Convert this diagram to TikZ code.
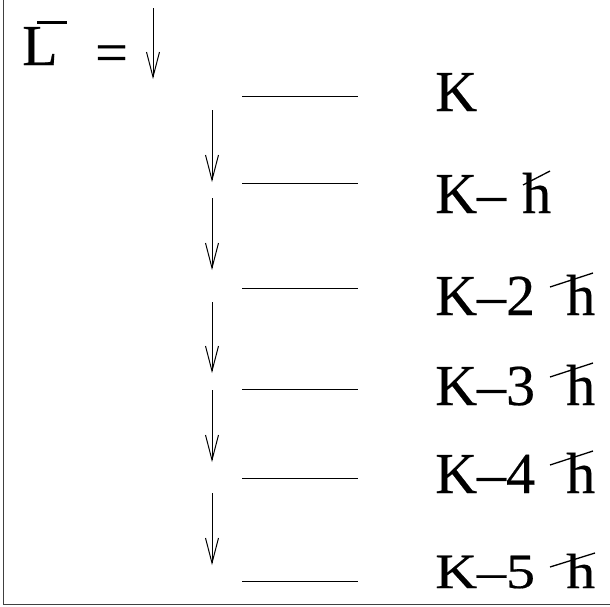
\documentclass[tikz,border=0pt]{standalone}
\usepackage{fontspec}
\setmainfont{Liberation Serif}
\newfontfamily\timesfont[FakeBold=0.4]{Liberation Serif}
\usetikzlibrary{arrows.meta}
\begin{document}
\begin{tikzpicture}[x=1pt,y=-1pt,
  lbl/.style={anchor=base west, inner sep=0pt, font=\timesfont\fontsize{58}{60}\selectfont},
  level/.style={line width=1pt},
  down/.style={line width=1pt, -{Straight Barb[length=25pt,width=13pt,line width=1pt]}},
  hbarline/.style={line width=1.3pt},
  frame/.style={line width=1pt, black!75}]
\useasboundingbox (0,0) rectangle (610,606);
% frame (left and bottom)
\coordinate (ftop) at (3,0);
\coordinate (fcorner) at (3,604);
\coordinate (fright) at (610,604);
\draw[frame] (ftop) -- (fcorner) -- (fright);
% L-bar = arrow
\node[lbl] (L) at (22,65) {L};
\coordinate (barA) at (37,22);
\coordinate (barB) at (67,22);
\draw[line width=3pt] (barA) -- (barB);
\node[lbl] (eq) at (95,72) {=};
\coordinate (t0) at (153,8);
\coordinate (t1) at (153,79);
\draw[down] (t0) -- (t1);
% levels
\foreach \i/\y in {1/96,2/183,3/288,4/389,5/478,6/581}{
  \coordinate (la\i) at (242,\y);
  \coordinate (lb\i) at (358,\y);
  \draw[level] (la\i) -- (lb\i);
}
% arrows between levels
\foreach \i/\ya/\yb in {1/110/182,2/198/270,3/302/373,4/390/462,5/493/565}{
  \coordinate (aa\i) at (212,\ya);
  \coordinate (ab\i) at (212,\yb);
  \draw[down] (aa\i) -- (ab\i);
}
% labels
\node[lbl] (k0) at (435,111) {K};
\node[lbl] (k1) at (435,213) {K\textendash};
\node[lbl] (h1) at (522,213) {h};
\coordinate (hb1a) at (523,185);
\coordinate (hb1b) at (550,171);
\draw[hbarline] (hb1a) -- (hb1b);
\foreach \i/\n/\b in {2/2/315,3/3/405,4/4/493}{
  \node[lbl] (k\i) at (435,\b) {K\textendash\n};
  \node[lbl] (h\i) at (566,\b) {h};
  \coordinate (hb\i a) at (550,\b-28);
  \coordinate (hb\i b) at (593,\b-42);
  \draw[hbarline] (hb\i a) -- (hb\i b);
}
\node[lbl] (k5) at (435,588) {\scalebox{1}[0.85]{K\textendash5}};
\node[lbl] (h5) at (566,588) {\scalebox{1}[0.85]{h}};
\coordinate (hb5a) at (550,567);
\coordinate (hb5b) at (595,553);
\draw[hbarline] (hb5a) -- (hb5b);
\end{tikzpicture}
\end{document}
